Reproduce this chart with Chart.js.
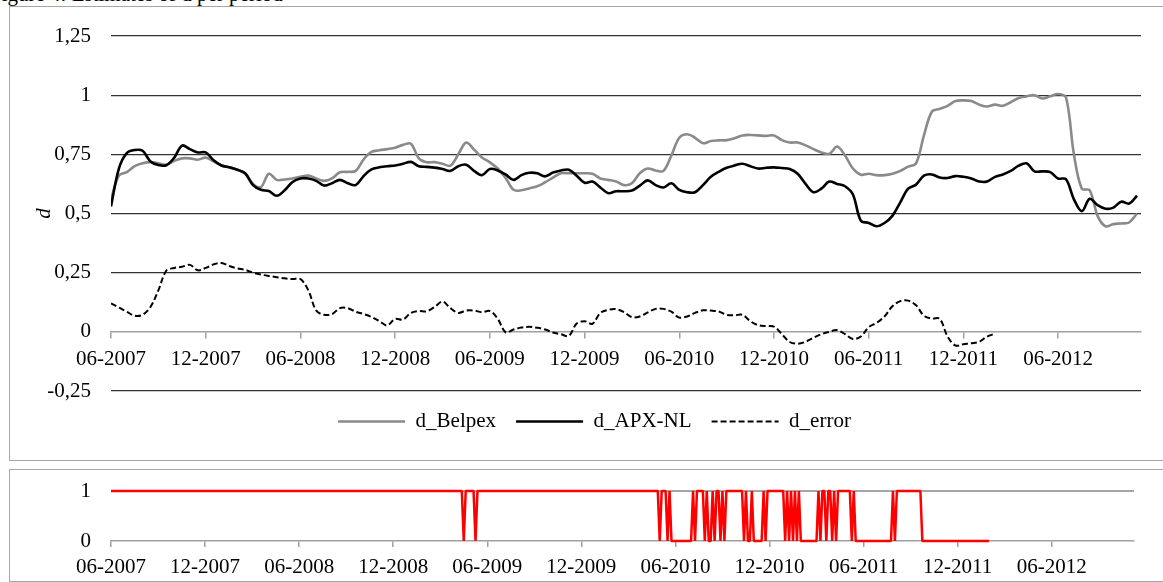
<!DOCTYPE html>
<html>
<head>
<meta charset="utf-8">
<script src="https://cdn.jsdelivr.net/npm/chart.js@4.4.0/dist/chart.umd.min.js"></script>
<style>
  html, body { margin: 0; padding: 0; background: #fff; overflow: hidden; width: 1163px; height: 582px; }
  .box { position: absolute; border: 1px solid #a6a6a6; box-sizing: border-box; }
  canvas { position: absolute; left: 0; }
  #caption { position: absolute; left: -10px; top: -18px; font: 21px "Liberation Serif", serif; line-height: normal; color: #000; white-space: nowrap; }
</style>
</head>
<body>
<div id="caption">Figure 4: Estimates of d per period</div>
<div class="box" style="left:9px; top:6px; width:1200px; height:455px;"></div>
<div class="box" style="left:9px; top:469px; width:1200px; height:113px;"></div>
<canvas id="top" width="1163" height="460" style="top:0"></canvas>
<canvas id="bottom" width="1163" height="112" style="top:469px"></canvas>
<script>
const dBelpex = [
  0.56, 0.66, 0.675, 0.70, 0.712, 0.717, 0.712, 0.706, 0.722, 0.733,
  0.733, 0.727, 0.736, 0.72, 0.703, 0.695, 0.685, 0.668, 0.625, 0.612,
  0.668, 0.642, 0.644, 0.648, 0.655, 0.66, 0.648, 0.638, 0.648, 0.674,
  0.676, 0.68, 0.728, 0.76, 0.767, 0.772, 0.778, 0.79, 0.795, 0.733,
  0.717, 0.717, 0.71, 0.702, 0.75, 0.80, 0.77, 0.737, 0.716, 0.69,
  0.65, 0.60, 0.598, 0.606, 0.615, 0.632, 0.652, 0.67, 0.67, 0.67,
  0.67, 0.668, 0.648, 0.642, 0.635, 0.62, 0.628, 0.67, 0.69, 0.682,
  0.68, 0.745, 0.82, 0.835, 0.82, 0.797, 0.806, 0.809, 0.81, 0.818,
  0.83, 0.832, 0.83, 0.828, 0.83, 0.81, 0.80, 0.80, 0.788, 0.772,
  0.758, 0.752, 0.783, 0.745, 0.69, 0.664, 0.668, 0.662, 0.662, 0.668,
  0.68, 0.698, 0.712, 0.83, 0.93, 0.942, 0.955, 0.975, 0.978, 0.975,
  0.96, 0.952, 0.96, 0.955, 0.97, 0.988, 0.995, 1.0, 0.986, 0.995,
  1.005, 0.99, 0.75, 0.605, 0.598, 0.49, 0.446, 0.455, 0.458, 0.462,
  0.50
]

const dAPX = [
  0.53, 0.69, 0.755, 0.768, 0.765, 0.72, 0.705, 0.704, 0.735, 0.787,
  0.772, 0.758, 0.758, 0.725, 0.703, 0.695, 0.685, 0.67, 0.62, 0.60,
  0.595, 0.575, 0.598, 0.633, 0.648, 0.648, 0.638, 0.618, 0.628, 0.642,
  0.628, 0.62, 0.658, 0.686, 0.695, 0.70, 0.703, 0.71, 0.718, 0.70,
  0.697, 0.694, 0.688, 0.68, 0.70, 0.706, 0.68, 0.662, 0.688, 0.682,
  0.665, 0.642, 0.662, 0.672, 0.67, 0.657, 0.673, 0.682, 0.685, 0.66,
  0.63, 0.635, 0.61, 0.586, 0.594, 0.594, 0.597, 0.618, 0.64, 0.62,
  0.61, 0.628, 0.60, 0.59, 0.59, 0.62, 0.655, 0.676, 0.693, 0.703,
  0.71, 0.70, 0.69, 0.693, 0.695, 0.692, 0.688, 0.668, 0.625, 0.59,
  0.605, 0.635, 0.625, 0.615, 0.58, 0.47, 0.46, 0.446, 0.46, 0.49,
  0.547, 0.605, 0.622, 0.66, 0.665, 0.652, 0.65, 0.658, 0.655, 0.648,
  0.635, 0.635, 0.655, 0.665, 0.68, 0.702, 0.712, 0.678, 0.678, 0.675,
  0.648, 0.645, 0.56, 0.51, 0.562, 0.535, 0.52, 0.525, 0.55, 0.542,
  0.575
]

const dError = [
  0.12, 0.103, 0.085, 0.068, 0.072, 0.105, 0.175, 0.258, 0.27, 0.275,
  0.283, 0.26, 0.27, 0.285, 0.291, 0.278, 0.268, 0.262, 0.25, 0.242,
  0.236, 0.231, 0.226, 0.223, 0.223, 0.175, 0.09, 0.072, 0.075, 0.1,
  0.1, 0.085, 0.075, 0.063, 0.045, 0.027, 0.055, 0.052, 0.08, 0.088,
  0.087, 0.105, 0.128, 0.10, 0.08, 0.09, 0.09, 0.083, 0.088, 0.055,
  -0.002, 0.01, 0.018, 0.021, 0.017, 0.01, -0.003, -0.01, -0.017, 0.035,
  0.045, 0.034, 0.08, 0.093, 0.096, 0.083, 0.062, 0.065, 0.082, 0.097,
  0.097, 0.085, 0.06, 0.065, 0.08, 0.091, 0.09, 0.086, 0.072, 0.07,
  0.072, 0.045, 0.028, 0.024, 0.022, -0.01, -0.043, -0.05, -0.042, -0.025,
  -0.01, 0.0, 0.007, -0.01, -0.03, -0.02, 0.02, 0.038, 0.065, 0.108,
  0.13, 0.132, 0.112, 0.068, 0.056, 0.055, -0.02, -0.058, -0.052, -0.048,
  -0.042, -0.02, -0.008
]

// 0/1 reeks, per achtste maand
const regime = [
  1,1,1,1,1,1,1,1,1,1,1,1,1,1,1,1,1,1,1,1,
  1,1,1,1,1,1,1,1,1,1,1,1,1,1,1,1,1,1,1,1,
  1,1,1,1,1,1,1,1,1,1,1,1,1,1,1,1,1,1,1,1,
  1,1,1,1,1,1,1,1,1,1,1,1,1,1,1,1,1,1,1,1,
  1,1,1,1,1,1,1,1,1,1,1,1,1,1,1,1,1,1,1,1,
  1,1,1,1,1,1,1,1,1,1,1,1,1,1,1,1,1,1,1,1,
  1,1,1,1,1,1,1,1,1,1,1,1,1,1,1,1,1,1,1,1,
  1,1,1,1,1,1,1,1,1,1,1,1,1,1,1,1,1,1,1,1,
  1,1,1,1,1,1,1,1,1,1,1,1,1,1,1,1,1,1,1,1,
  0,1,1,1,1,1,0,1,1,1,1,1,1,1,1,1,1,1,1,1,
  1,1,1,1,1,1,1,1,1,1,1,1,1,1,1,1,1,1,1,1,
  1,1,1,1,1,1,1,1,1,1,1,1,1,1,1,1,1,1,1,1,
  1,1,1,1,1,1,1,1,1,1,1,1,1,1,1,1,1,1,1,1,
  1,1,1,1,1,1,1,1,1,1,1,1,1,1,1,1,1,1,1,1,
  0,1,1,1,0,1,0,0,0,0,0,0,0,0,0,0,0,1,0,1,
  1,1,1,0,1,0,0,1,0,1,1,0,1,0,1,1,1,1,1,1,
  1,1,1,0,1,0,0,1,0,0,0,0,0,1,0,1,1,1,1,1,
  1,1,1,1,0,1,0,1,0,1,0,1,0,0,0,0,0,0,0,0,
  0,1,0,1,1,0,1,1,0,1,0,1,1,1,1,1,1,1,0,1,
  0,0,0,0,0,0,0,0,0,0,0,0,0,0,0,0,0,0,0,1,
  0,1,1,1,1,1,1,1,1,1,1,1,1,1,0,0,0,0,0,0,
  0,0,0,0,0,0,0,0,0,0,0,0,0,0,0,0,0,0,0,0,
  0,0,0,0,0,0,0,0,0
]

const yTicksTop = [-0.25, 0, 0.25, 0.5, 0.75, 1, 1.25]
const xMaxMonths = 65.25   // 06-2007 tot half november 2012

const serif = '"Liberation Serif", "Times New Roman", serif'

// maand-index -> 'MM-YYYY'
function maandLabel(m){
    let t = 5 + Math.round(m)
    let mm = (t % 12) + 1
    let yy = 2007 + Math.floor(t / 12)
    return (mm < 10 ? '0' + mm : '' + mm) + '-' + yy
}

function komma(v){
    return String(Math.round(v * 100) / 100).replace('.', ',')
}

function punten(arr, stap){
    return arr.map((v, i) => ({x: i * stap, y: v}))
}

// vaste breedte voor de y-as, zonder extra ruimte boven/onder
function yAsBreedte(s){
    s.width = 111
    s.paddingTop = 0
    s.paddingBottom = 0
}

// legenda met lijnstukjes, ook gestreept
function legendaLabels(chart){
    let items = Chart.defaults.plugins.legend.labels.generateLabels(chart)
    items.forEach(item => {
        let ds = chart.data.datasets[item.datasetIndex]
        item.lineDash = ds.borderDash || []
        item.lineWidth = ds.borderWidth
        item.strokeStyle = ds.borderColor
        item.pointStyle = 'line'
    })
    return items.sort((a, b) => a.datasetIndex - b.datasetIndex)
}

// legenda iets naar rechts, zoals in het origineel
const legendShift = {
    id: 'legendShift',
    afterLayout(chart){
        if(chart.legend){
            chart.legend.left += 24
            chart.legend.right += 24
        }
    }
}

// Bovenste grafiek: d_Belpex, d_APX-NL, d_error
let grafiekBoven = new Chart(document.getElementById('top'), {
    type: 'line',
    data: {
        datasets: [
            {
                label: 'd_Belpex',
                data: punten(dBelpex, 0.5),
                borderColor: '#8a8a8a',
                borderWidth: 2.6,
                pointRadius: 0,
                tension: 0.35,
                order: 1
            },
            {
                label: 'd_APX-NL',
                data: punten(dAPX, 0.5),
                borderColor: '#000000',
                borderWidth: 2.6,
                pointRadius: 0,
                tension: 0.35,
                order: 0
            },
            {
                label: 'd_error',
                data: punten(dError, 0.5),
                borderColor: '#000000',
                borderWidth: 2,
                borderDash: [6, 3],
                pointRadius: 0,
                tension: 0.35,
                order: 2
            }
        ]
    },
    options: {
        responsive: false,
        animation: false,
        devicePixelRatio: 1,
        layout: { autoPadding: false, padding: { top: 36, right: 22, bottom: 18, left: 0 } },
        plugins: {
            tooltip: { enabled: false },
            legend: {
                position: 'bottom',
                labels: {
                    usePointStyle: true,
                    pointStyle: 'line',
                    pointStyleWidth: 67,
                    padding: 20,
                    color: '#000',
                    font: { family: serif, size: 21 },
                    generateLabels: legendaLabels
                }
            }
        },
        scales: {
            x: {
                type: 'linear',
                min: 0,
                max: xMaxMonths,
                position: { y: 0 },
                border: { display: true, color: '#a0a0a0', width: 1.5 },
                grid: { drawOnChartArea: false, drawTicks: true, tickLength: 6, color: '#a0a0a0', lineWidth: 1.5 },
                ticks: {
                    stepSize: 6,
                    includeBounds: false,
                    autoSkip: false,
                    maxRotation: 0,
                    padding: 9,
                    color: '#000',
                    font: { family: serif, size: 21 },
                    callback: v => maandLabel(v)
                }
            },
            y: {
                min: -0.25,
                max: 1.25,
                afterFit: yAsBreedte,
                afterBuildTicks: s => { s.ticks = yTicksTop.map(v => ({ value: v })) },
                border: { display: false },
                grid: {
                    drawTicks: false,
                    lineWidth: 1.3,
                    color: c => c.tick && c.tick.value === 0 ? 'rgba(0,0,0,0)' : '#333333'
                },
                ticks: {
                    padding: 20,
                    color: '#000',
                    font: { family: serif, size: 21 },
                    callback: v => komma(v)
                },
                title: {
                    display: true,
                    text: 'd',
                    color: '#000',
                    padding: { top: 32, bottom: 0 },
                    font: { family: serif, size: 21, style: 'italic' }
                }
            }
        }
    },
    plugins: [legendShift]
})

// Onderste grafiek: 0/1 reeks in rood
let grafiekOnder = new Chart(document.getElementById('bottom'), {
    type: 'line',
    data: {
        datasets: [{
            label: 'regime',
            data: punten(regime, 0.125),
            borderColor: '#ff0000',
            borderWidth: 2.5,
            borderJoinStyle: 'bevel',
            pointRadius: 0,
            clip: false
        }]
    },
    options: {
        responsive: false,
        animation: false,
        devicePixelRatio: 1,
        layout: { autoPadding: false, padding: { top: 22, right: 29, bottom: 0, left: 0 } },
        plugins: { legend: { display: false }, tooltip: { enabled: false } },
        scales: {
            x: {
                type: 'linear',
                min: 0,
                max: xMaxMonths,
                afterFit: s => { s.height = 40 },
                border: { display: true, color: '#a0a0a0', width: 1.5 },
                grid: { drawOnChartArea: false, drawTicks: true, tickLength: 6, color: '#a0a0a0', lineWidth: 1.5 },
                ticks: {
                    stepSize: 6,
                    includeBounds: false,
                    autoSkip: false,
                    maxRotation: 0,
                    padding: 8,
                    color: '#000',
                    font: { family: serif, size: 21 },
                    callback: v => maandLabel(v)
                }
            },
            y: {
                min: 0,
                max: 1,
                afterFit: yAsBreedte,
                border: { display: false },
                grid: {
                    drawTicks: false,
                    lineWidth: 2,
                    color: c => c.tick && c.tick.value === 0 ? 'rgba(0,0,0,0)' : '#a6a6a6'
                },
                ticks: {
                    stepSize: 1,
                    padding: 20,
                    color: '#000',
                    font: { family: serif, size: 21 }
                }
            }
        }
    }
})
</script>
</body>
</html>
